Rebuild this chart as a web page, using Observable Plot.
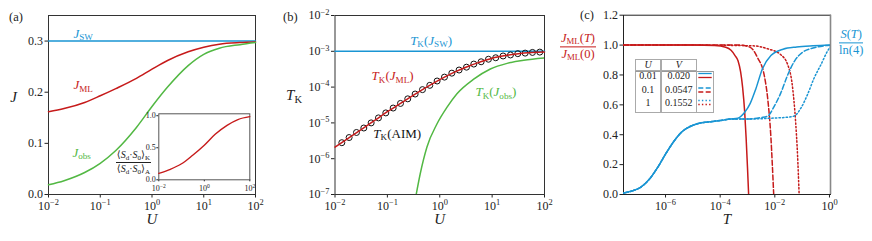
<!DOCTYPE html>
<html><head><meta charset="utf-8">
<script src="https://cdn.jsdelivr.net/npm/d3@7"></script>
<script src="https://cdn.jsdelivr.net/npm/@observablehq/plot@0.6"></script>
<style>
body{margin:0;background:#fff;}
#root{position:relative;width:872px;height:241px;overflow:hidden;font-family:"Liberation Serif","DejaVu Serif",serif;color:#222;background:#fff;}
#root svg{position:absolute;left:0;top:0;}
.frac{position:absolute;display:flex;flex-direction:column;align-items:center;transform:translateY(-50%);white-space:nowrap;}
.frac .n{border-bottom:0.9px solid currentColor;padding:0 1px 1px;line-height:1.05;}
.frac .d{line-height:1.05;padding-top:1px;}
#root sub{font-size:70%;vertical-align:-0.22em;line-height:0;}
</style></head><body><div id="root"></div><script>
// ---------------- DATA ----------------
// Panel (a): couplings J vs U
const uGrid = [0.01,0.02,0.05,0.1,0.2,0.5,1,2,5,10,20,50,100];
const jML   = [0.162,0.168,0.180,0.193,0.207,0.227,0.245,0.262,0.279,0.288,0.294,0.297,0.298];
const jObs  = [0.019,0.027,0.043,0.061,0.086,0.131,0.172,0.210,0.252,0.274,0.286,0.293,0.297];
const uSW   = [0.01,100];
const jSW   = [0.3,0.3];
// inset: <Sd.S0>_K / <Sd.S0>_A
const uInset  = [0.01,0.03,0.1,0.3,1,3,10,30,100];
const ratioKA = [0.10,0.16,0.25,0.38,0.54,0.71,0.85,0.94,0.985];
// Panel (b): Kondo temperatures
const uTkSW = [0.01,100];
const tkSW  = [1e-3,1e-3];
const uTkML = [0.01,0.0178,0.0316,0.0562,0.1,0.178,0.316,0.562,1,1.78,3.16,5.62,10,17.8,31.6,56.2,100];
const tkML  = [2.1e-6,3.7e-6,6.5e-6,1.15e-5,2.05e-5,3.5e-5,6.0e-5,1.0e-4,1.62e-4,2.5e-4,3.6e-4,4.9e-4,6.4e-4,7.6e-4,8.6e-4,9.2e-4,9.5e-4];
const uAIM  = [0.0135,0.0186,0.0257,0.0355,0.049,0.0676,0.0933,0.129,0.178,0.245,0.339,0.468,0.646,0.891,1.23,1.70,2.34,3.24,4.47,6.17,8.51,11.7,16.2,22.4,30.9,42.7,58.9,81.3];
const tkAIM = [2.8e-6,3.9e-6,5.4e-6,7.2e-6,1.0e-5,1.38e-5,1.9e-5,2.6e-5,3.5e-5,4.7e-5,6.4e-5,8.5e-5,1.12e-4,1.48e-4,1.9e-4,2.45e-4,3.0e-4,3.6e-4,4.4e-4,5.1e-4,6.0e-4,6.6e-4,7.4e-4,7.9e-4,8.6e-4,8.9e-4,9.3e-4,9.5e-4];
const uTkObs = [0.355,0.424,0.568,0.883,1.37,2.13,4.45,9.25,19.3,40.2,100];
const tkObs  = [1e-7,3.8e-7,2.1e-6,9.3e-6,2.7e-5,6.5e-5,1.66e-4,3.2e-4,4.6e-4,5.6e-4,6.5e-4];
// Panel (c): J_ML(T)/J_ML(0) and S(T)/ln4 for three (U,V)
const legU = ["0.01","0.1","1"];
const legV = ["0.020","0.0547","0.1552"];
const rT1 = [2.9e-8,1e-5,6.3e-5,1.6e-4,2.5e-4,3.5e-4,4.5e-4,5.6e-4,6.6e-4,7.9e-4,8.9e-4,1.0e-3,1.1e-3];
const r1  = [1,1,0.997,0.985,0.965,0.93,0.895,0.82,0.72,0.55,0.38,0.18,0];
const rT2 = [2.9e-8,5e-4,1.26e-3,2.34e-3,4.07e-3,5.5e-3,7.2e-3,8.1e-3,9.1e-3];
const r2  = [1,1,0.985,0.915,0.8,0.64,0.38,0.2,0];
const rT3 = [2.9e-8,1e-5,1.6e-3,5.5e-3,0.0166,0.0295,0.0447,0.0575,0.0676,0.0776];
const r3  = [1,1,0.995,0.975,0.935,0.87,0.715,0.49,0.27,0];
const sT0 = [2.9e-8,6.3e-8,1.26e-7,2.5e-7,5.1e-7,1e-6,2.1e-6,4e-6,7.9e-6,1.58e-5,3.5e-5,1e-4,2.5e-4];
const s0  = [0.01,0.025,0.05,0.1,0.18,0.27,0.36,0.42,0.455,0.475,0.485,0.495,0.505];
const sT1 = [4.4e-4,7.9e-4,1.26e-3,2e-3,3.5e-3,7.2e-3,0.02,0.063,0.25,1.09];
const s1  = [0.51,0.55,0.61,0.705,0.84,0.93,0.972,0.987,0.995,1.0];
const sT2 = [1e-3,3.16e-3,5.5e-3,9.5e-3,0.0166,0.0295,0.0513,0.1,0.275,1.09];
const s2  = [0.505,0.515,0.525,0.59,0.68,0.80,0.89,0.95,0.982,1.0];
const sT3 = [1e-3,0.01,0.0316,0.0513,0.0912,0.158,0.275,0.49,0.85,1.09];
const s3  = [0.505,0.512,0.518,0.525,0.58,0.67,0.78,0.87,0.96,0.99];

// ---------------- HELPERS ----------------
const BLUE = "#1a95d3", RED = "#c61a1a", GREEN = "#52b843", INK = "#222";
const FONT = '"Liberation Serif","DejaVu Serif",serif';
const W = 872, H = 241;
const zip = (xs, ys) => xs.map((x, i) => ({x, y: ys[i]}));
const pow10 = d => { const e = Math.round(Math.log10(d)); return "10^{" + (e < 0 ? "\u2212" + (-e) : e) + "}"; };
const f1 = d3.format(".1f");
const base = {width: W, height: H, style: {background: "transparent", fontFamily: FONT, fontSize: "12px", color: INK, overflow: "visible"}};
const axX = {tickSize: 3.5, tickPadding: 3.5, label: null};
const axY = {tickSize: 3.5, tickPadding: 2, label: null};
const root = document.getElementById("root");

function texify(svg) {
  const ns = "http://www.w3.org/2000/svg";
  svg.querySelectorAll("text").forEach(el => {
    if (el.querySelector("tspan")) return;
    const s = el.textContent;
    if (!/[_^*]/.test(s)) return;
    const fs = parseFloat(getComputedStyle(el).fontSize);
    el.textContent = "";
    let shift = 0;
    for (const m of s.match(/_\{[^}]*\}|\^\{[^}]*\}|\*[^*]*\*|[^_^*]+/g)) {
      let txt = m, target = 0, size = fs, ital = false;
      if (m.startsWith("_{")) { txt = m.slice(2, -1); target = fs * 0.2; size = fs * 0.7; }
      else if (m.startsWith("^{")) { txt = m.slice(2, -1); target = -fs * 0.38; size = fs * 0.7; }
      else if (m.startsWith("*")) { txt = m.slice(1, -1); ital = true; }
      const t = document.createElementNS(ns, "tspan");
      t.textContent = txt;
      t.setAttribute("font-size", size);
      if (ital) t.setAttribute("font-style", "italic");
      const dy = target - shift;
      if (dy) t.setAttribute("dy", dy);
      shift = target;
      el.appendChild(t);
    }
  });
}
function add(svg) { root.appendChild(svg); texify(svg); }
const lab = (x, y, t, opts) => Plot.text([{x, y, t}], {x: "x", y: "y", text: "t", textAnchor: "start", fontSize: 13, ...opts});
const xLab = (t, dy) => Plot.text([t], {frameAnchor: "bottom", text: d => d, dy, fontSize: 15, lineAnchor: "middle"});

// ---------------- PANEL (a) ----------------
add(Plot.plot({
  ...base,
  marginLeft: 48, marginRight: W - 255, marginTop: 15, marginBottom: H - 194,
  x: {type: "log", domain: [1e-2, 1e2], ticks: [1e-2, 1e-1, 1, 10, 100], tickFormat: pow10, ...axX},
  y: {domain: [0, 0.35], ticks: [0, 0.1, 0.2, 0.3], tickFormat: f1, ...axY},
  marks: [
    Plot.frame({stroke: "#333"}),
    Plot.line(zip(uSW, jSW), {x: "x", y: "y", stroke: BLUE, strokeWidth: 1.5}),
    Plot.line(zip(uGrid, jML), {x: "x", y: "y", stroke: RED, strokeWidth: 1.5, curve: "monotone-x"}),
    Plot.line(zip(uGrid, jObs), {x: "x", y: "y", stroke: GREEN, strokeWidth: 1.5, curve: "monotone-x"}),
    lab(0.0304, 0.315, "*J*_{SW}", {fill: BLUE}),
    lab(0.0304, 0.214, "*J*_{ML}", {fill: RED}),
    lab(0.029, 0.082, "*J*_{obs}", {fill: GREEN}),
    Plot.text([{y: 0.19, t: "*J*"}], {frameAnchor: "left", y: "y", text: "t", dx: -35, fontSize: 15, textAnchor: "middle", lineAnchor: "middle"}),
    xLab("*U*", 25)
  ]
}));

// inset
add(Plot.plot({
  ...base, style: {...base.style, fontSize: "8px"},
  marginLeft: 158.3, marginRight: W - 249.3, marginTop: 113.3, marginBottom: H - 179.3,
  x: {type: "log", domain: [1e-2, 1e2], ticks: [1e-2, 1, 100], tickFormat: pow10, tickSize: 2, tickPadding: 3.5, label: null},
  y: {domain: [0, 1.03], ticks: [0, 0.5, 1], tickFormat: f1, tickSize: 2, tickPadding: 1, label: null},
  marks: [
    Plot.frame({fill: "white", stroke: "#555"}),
    Plot.line(zip(uInset, ratioKA), {x: "x", y: "y", stroke: RED, strokeWidth: 1.4, curve: "monotone-x"})
  ]
}));

// ---------------- PANEL (b) ----------------
add(Plot.plot({
  ...base,
  marginLeft: 334.5, marginRight: W - 544, marginTop: 15, marginBottom: H - 194,
  x: {type: "log", domain: [1e-2, 1e2], ticks: [1e-2, 1e-1, 1, 10, 100], tickFormat: pow10, ...axX},
  y: {type: "log", domain: [1e-7, 1e-2], ticks: [1e-7, 1e-6, 1e-5, 1e-4, 1e-3, 1e-2], tickFormat: pow10, ...axY},
  marks: [
    Plot.frame({stroke: "#333"}),
    Plot.line(zip(uTkSW, tkSW), {x: "x", y: "y", stroke: BLUE, strokeWidth: 1.5}),
    Plot.line(zip(uTkObs, tkObs), {x: "x", y: "y", stroke: GREEN, strokeWidth: 1.5, curve: "monotone-x", clip: true}),
    Plot.dot(zip(uAIM, tkAIM), {x: "x", y: "y", r: 3, stroke: "#111", strokeWidth: 1, fill: "none"}),
    Plot.line(zip(uTkML, tkML), {x: "x", y: "y", stroke: RED, strokeWidth: 1.5, curve: "monotone-x"}),
    lab(0.272, 2.0e-3, "*T*_{K}(*J*_{SW})", {fill: BLUE}),
    lab(0.050, 2.0e-4, "*T*_{K}(*J*_{ML})", {fill: RED}),
    lab(4.8, 7.2e-5, "*T*_{K}(*J*_{obs})", {fill: GREEN}),
    lab(0.054, 5.0e-6, "*T*_{K}(AIM)", {fill: "#111"}),
    Plot.text([{y: 5.8e-5, t: "*T*_{K}"}], {frameAnchor: "left", y: "y", text: "t", dx: -41, fontSize: 15, textAnchor: "middle", lineAnchor: "middle"}),
    xLab("*U*", 25)
  ]
}));

// ---------------- PANEL (c) ----------------
const dashes = [null, "5,2.4", "1.4,2.2"];
const redSets = [zip(rT1, r1), zip(rT2, r2), zip(rT3, r3)];
const blueSets = [zip(sT0, s0).concat(zip(sT1, s1)), zip(sT0, s0).concat(zip(sT2, s2)), zip(sT0, s0).concat(zip(sT3, s3))];
add(Plot.plot({
  ...base,
  marginLeft: 623, marginRight: W - 830, marginTop: 14.7, marginBottom: H - 194,
  x: {type: "log", domain: [2.9e-8, 1.09], ticks: [1e-6, 1e-4, 1e-2, 1], tickFormat: pow10, ...axX},
  y: {domain: [0, 1.2], ticks: [0, 0.2, 0.4, 0.6, 0.8, 1.0, 1.2], tickFormat: f1, ...axY},
  marks: [
    Plot.frame({stroke: "#222"}),
    ...redSets.map((d, i) => Plot.line(d, {x: "x", y: "y", stroke: RED, strokeWidth: 1.5, strokeDasharray: dashes[i], curve: "monotone-x", clip: true})),
    ...blueSets.map((d, i) => Plot.line(d, {x: "x", y: "y", stroke: BLUE, strokeWidth: 1.5, strokeDasharray: dashes[i], curve: "monotone-x", clip: true})),
    Plot.ruleX([1.09], {stroke: "#888", strokeWidth: 1.6}),
    xLab("*T*", 25)
  ]
}));

// ---------------- HTML annotations ----------------
function place(html, css) {
  const d = document.createElement("div");
  d.innerHTML = html;
  Object.assign(d.style, {position: "absolute", whiteSpace: "nowrap", lineHeight: "1"}, css);
  root.appendChild(d);
  return d;
}
function frac(num, den, css) {
  const d = document.createElement("div");
  d.className = "frac";
  d.innerHTML = `<span class="n">${num}</span><span class="d">${den}</span>`;
  Object.assign(d.style, css);
  root.appendChild(d);
}
place("(a)", {left: "9px", top: "10.5px", fontSize: "12.5px"});
place("(b)", {left: "283px", top: "11px", fontSize: "12.5px"});
place("(c)", {left: "580px", top: "9px", fontSize: "12.5px"});
frac("<i>J</i><sub>ML</sub>(<i>T</i>)", "<i>J</i><sub>ML</sub>(0)", {right: (W - 596) + "px", top: "47px", fontSize: "12.5px", color: RED});
frac("<i>S</i>(<i>T</i>)", "ln(4)", {left: "839px", top: "43px", fontSize: "12.5px", color: BLUE});
frac("\u27e8<i>S</i><sub>d</sub>\u00b7<i>S</i><sub>0</sub>\u27e9<sub>K</sub>", "\u27e8<i>S</i><sub>d</sub>\u00b7<i>S</i><sub>0</sub>\u27e9<sub>A</sub>", {right: (W - 151) + "px", top: "162px", fontSize: "10px", color: INK});

// legend table
const tb = document.createElement("div");
Object.assign(tb.style, {position: "absolute", left: "635px", top: "59.3px", width: "80px", height: "54px", fontSize: "10px"});
root.appendChild(tb);
const box = (l, t, w, h, css) => { const d = document.createElement("div"); Object.assign(d.style, {position: "absolute", left: l + "px", top: t + "px", width: w + "px", height: h + "px", boxSizing: "border-box"}, css); tb.appendChild(d); return d; };
box(0, 0, 61.7, 12, {border: "1px solid #aaa", background: "#fff"});
box(0, 11.4, 79.3, 42, {border: "1px solid #aaa", borderTop: "1.6px solid #999", background: "#fff"});
box(25.3, 0, 1.8, 53.4, {background: "#aaa"});
box(61, 11.4, 1.2, 42, {background: "#aaa"});
const cell = (cx, cy, html) => { const d = document.createElement("div"); d.innerHTML = html; Object.assign(d.style, {position: "absolute", left: cx + "px", top: cy + "px", transform: "translate(-50%,-50%)", whiteSpace: "nowrap", lineHeight: "1"}); tb.appendChild(d); };
cell(13, 5.9, "<i>U</i>");
cell(43.8, 5.9, "<i>V</i>");
const rowY = [16.5, 31, 43.5];
legU.forEach((u, i) => { cell(13, rowY[i], u); cell(43.8, rowY[i], legV[i]); });
const ns = "http://www.w3.org/2000/svg";
const ls = document.createElementNS(ns, "svg");
ls.setAttribute("width", 80); ls.setAttribute("height", 54);
ls.style.position = "absolute"; ls.style.left = "0"; ls.style.top = "0"; ls.style.overflow = "visible";
rowY.forEach((cy, i) => {
  [[BLUE, -2], [RED, 2]].forEach(([c, off]) => {
    const l = document.createElementNS(ns, "line");
    l.setAttribute("x1", 63.3); l.setAttribute("x2", 76.7);
    l.setAttribute("y1", cy + off); l.setAttribute("y2", cy + off);
    l.setAttribute("stroke", c); l.setAttribute("stroke-width", 1.3);
    if (dashes[i]) l.setAttribute("stroke-dasharray", dashes[i]);
    ls.appendChild(l);
  });
});
tb.appendChild(ls);
</script></body></html>
